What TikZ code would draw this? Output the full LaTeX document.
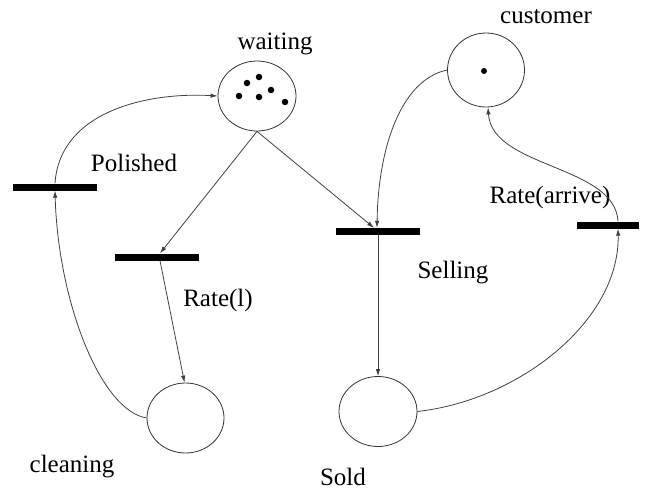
\documentclass[tikz,border=0pt]{standalone}
\usepackage{fontspec}
\setmainfont{Liberation Serif}
\usetikzlibrary{shapes.geometric,arrows.meta}
\begin{document}
\begin{tikzpicture}[x=1pt,y=-1pt,
  place/.style={draw=black!80,line width=0.8pt,ellipse,inner sep=0pt,minimum width=78pt,minimum height=70pt},
  trans/.style={fill=black,draw=none,inner sep=0pt,minimum width=84pt,minimum height=7pt},
  arc/.style={draw=black!75,line width=0.8pt,-{Latex[length=7pt,width=4.5pt]}},
  lbl/.style={font=\fontsize{25}{30}\selectfont,inner sep=0pt},
  token/.style={circle,fill=black,inner sep=0pt,minimum size=6.5pt}]
\useasboundingbox (0,0) rectangle (652,491);

% places
\node[place] (waiting) at (257,96) {};
\node[place,minimum width=77pt,minimum height=74pt] (customer) at (486,70) {};
\node[place,minimum width=77pt] (cleaning) at (185.5,418) {};
\node[place,minimum width=78pt] (sold) at (378,411.5) {};

% tokens
\foreach \p/\q in {247/83,259/77,239/96,259/97,271/90,285/102}
  \node[token] at (\p,\q) {};
\node[token,minimum size=6pt] (ctok) at (484,71) {};

% transitions
\node[trans] (tP) at (54.5,187) {};
\node[trans] (tR) at (156.5,257) {};
\node[trans] (tS) at (378,231.5) {};
\node[trans,minimum width=62pt] (tA) at (608,225) {};

% labels
\node[lbl] (Lw) at (275,44) {waiting};
\node[lbl] (Lc) at (546,17) {customer};
\node[lbl] (Lp) at (134,163) {Polished};
\node[lbl] (Lr) at (218,300) {Rate(l)};
\node[lbl] (Ls) at (453,273) {Selling};
\node[lbl] (La) at (550,197) {Rate(arrive)};
\node[lbl] (Lcl) at (72,467) {cleaning};
\node[lbl] (Lso) at (343,477) {Sold};

% arcs
\draw[arc] (waiting.south) -- ([xshift=3.5pt]tR.north);
\draw[arc] (waiting.south) -- ([xshift=-4pt]tS.north);
\draw[arc] (customer.west) .. controls (400,80) and (378,150) .. ([xshift=-1pt]tS.north);
\draw[arc] (tS.south) -- (sold.north);
\draw[arc] ([xshift=3.5pt]tR.south) -- ([xshift=-1pt]cleaning.north);
\draw[arc] (cleaning.west) .. controls (100,410) and (58,300) .. ([xshift=0.5pt]tP.south);
\draw[arc] ([xshift=0.5pt]tP.north) .. controls (60,110) and (150,92) .. (waiting.west);
\draw[arc] (sold.east) .. controls (520,400) and (620,320) .. ([xshift=10pt]tA.south);
\draw[arc] ([xshift=10pt]tA.north) .. controls (615,165) and (492,168) .. ([xshift=2pt]customer.south);
\end{tikzpicture}
\end{document}
